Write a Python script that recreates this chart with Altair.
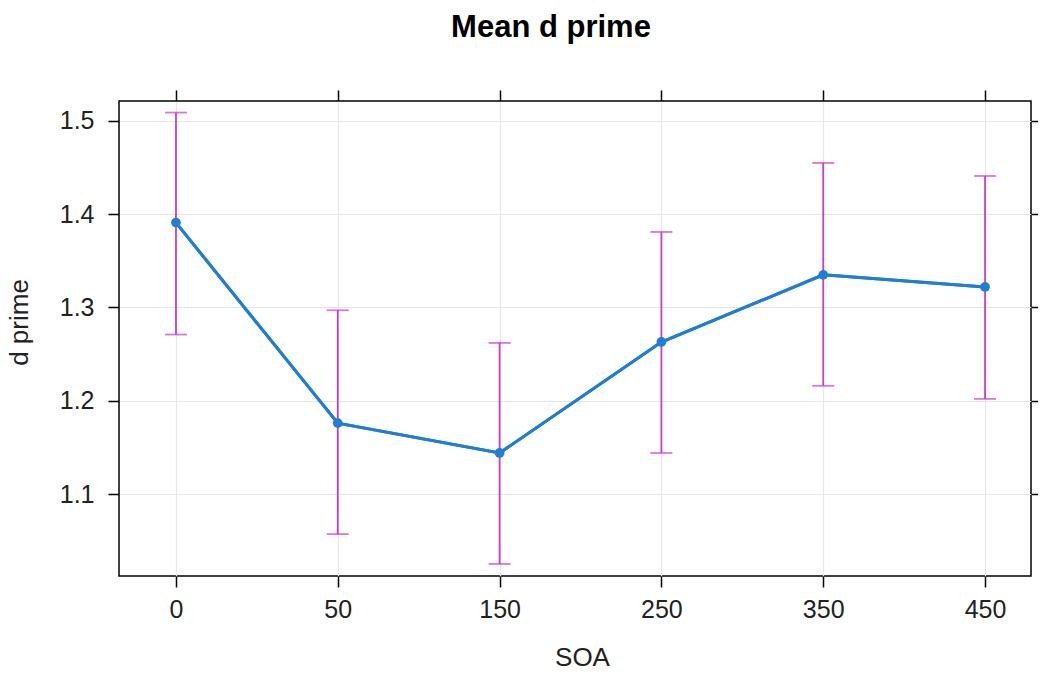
import altair as alt
import pandas as pd

soa_labels = ["0", "50", "150", "250", "350", "450"]
mean_dprime = [1.391, 1.176, 1.144, 1.263, 1.335, 1.322]
upper = [1.509, 1.297, 1.262, 1.381, 1.455, 1.441]
lower = [1.271, 1.057, 1.025, 1.144, 1.216, 1.202]

df = pd.DataFrame({
    "idx": list(range(len(soa_labels))),
    "soa": soa_labels,
    "mean": mean_dprime,
    "hi": upper,
    "lo": lower,
})

label_expr = "[" + ",".join("'" + s + "'" for s in soa_labels) + "][datum.value]"
FONT = "Liberation Sans"
xs = alt.Scale(domain=[-0.352, 5.284], nice=False, zero=False)
ys = alt.Scale(domain=[1.0121, 1.5214], nice=False, zero=False)
yvals = [1.1, 1.2, 1.3, 1.4, 1.5]
xvals = list(range(len(soa_labels)))
LINE = "#1f7fd6"
ERR = "#cc3ccc"

base = alt.Chart(df)

main_axes = base.mark_line(color=LINE, strokeWidth=3).encode(
    x=alt.X("idx:Q", scale=xs, axis=alt.Axis(
        values=xvals, labelExpr=label_expr, title="SOA", orient="bottom",
        grid=True, gridColor="#e6e6e6", gridWidth=1.2,
        domain=False, ticks=True, tickSize=11, tickColor="black", tickWidth=1.5,
        labelFont=FONT, labelFontSize=25, labelColor="#222", labelPadding=10,
        titleFont=FONT, titleFontSize=26, titleFontWeight="normal", titleColor="#222",
        titlePadding=22, titleX=463)),
    y=alt.Y("mean:Q", scale=ys, axis=alt.Axis(
        values=yvals, format=".1f", title="d prime", orient="left",
        grid=True, gridColor="#e6e6e6", gridWidth=1.2,
        domain=False, ticks=True, tickSize=11, tickColor="black", tickWidth=1.5,
        labelFont=FONT, labelFontSize=25, labelColor="#222", labelPadding=14,
        titleFont=FONT, titleFontSize=26, titleFontWeight="normal", titleColor="#222",
        titlePadding=27, titleY=221)),
)

err = base.mark_rule(color=ERR, strokeWidth=1.8).encode(
    x=alt.X("idx:Q", scale=xs, axis=alt.Axis(
        values=xvals, orient="top", labels=False, title=None, grid=False,
        domain=False, tickSize=11, tickColor="black", tickWidth=1.5)),
    y=alt.Y("lo:Q", scale=ys, axis=alt.Axis(
        values=yvals, orient="right", labels=False, title=None, grid=False,
        domain=False, tickSize=11, tickColor="black", tickWidth=1.5)),
    y2="hi:Q",
)

cap_hi = base.mark_tick(color=ERR, orient="horizontal", size=22, thickness=1.8).encode(
    x=alt.X("idx:Q", scale=xs, axis=None),
    y=alt.Y("hi:Q", scale=ys, axis=None),
)
cap_lo = base.mark_tick(color=ERR, orient="horizontal", size=22, thickness=1.8).encode(
    x=alt.X("idx:Q", scale=xs, axis=None),
    y=alt.Y("lo:Q", scale=ys, axis=None),
)

line_top = base.mark_line(color=LINE, strokeWidth=3).encode(
    x=alt.X("idx:Q", scale=xs, axis=None),
    y=alt.Y("mean:Q", scale=ys, axis=None),
)

pts = base.mark_circle(color=LINE, size=95, opacity=1).encode(
    x=alt.X("idx:Q", scale=xs, axis=None),
    y=alt.Y("mean:Q", scale=ys, axis=None),
)

chart = alt.layer(main_axes, err, cap_hi, cap_lo, line_top, pts).resolve_axis(
    x="independent", y="independent"
).properties(
    width=912, height=475,
    autosize=alt.AutoSizeParams(type="none"),
    padding={"left": 111, "top": 93, "right": 7, "bottom": 90},
    title=alt.TitleParams("Mean d prime", font=FONT, fontSize=31, fontWeight="bold",
                          color="black", anchor="middle", offset=45, dx=-24),
).configure(background="white").configure_view(stroke="black", strokeWidth=1.5)

chart.save("out.html", embed_options={"renderer": "svg", "actions": False})
